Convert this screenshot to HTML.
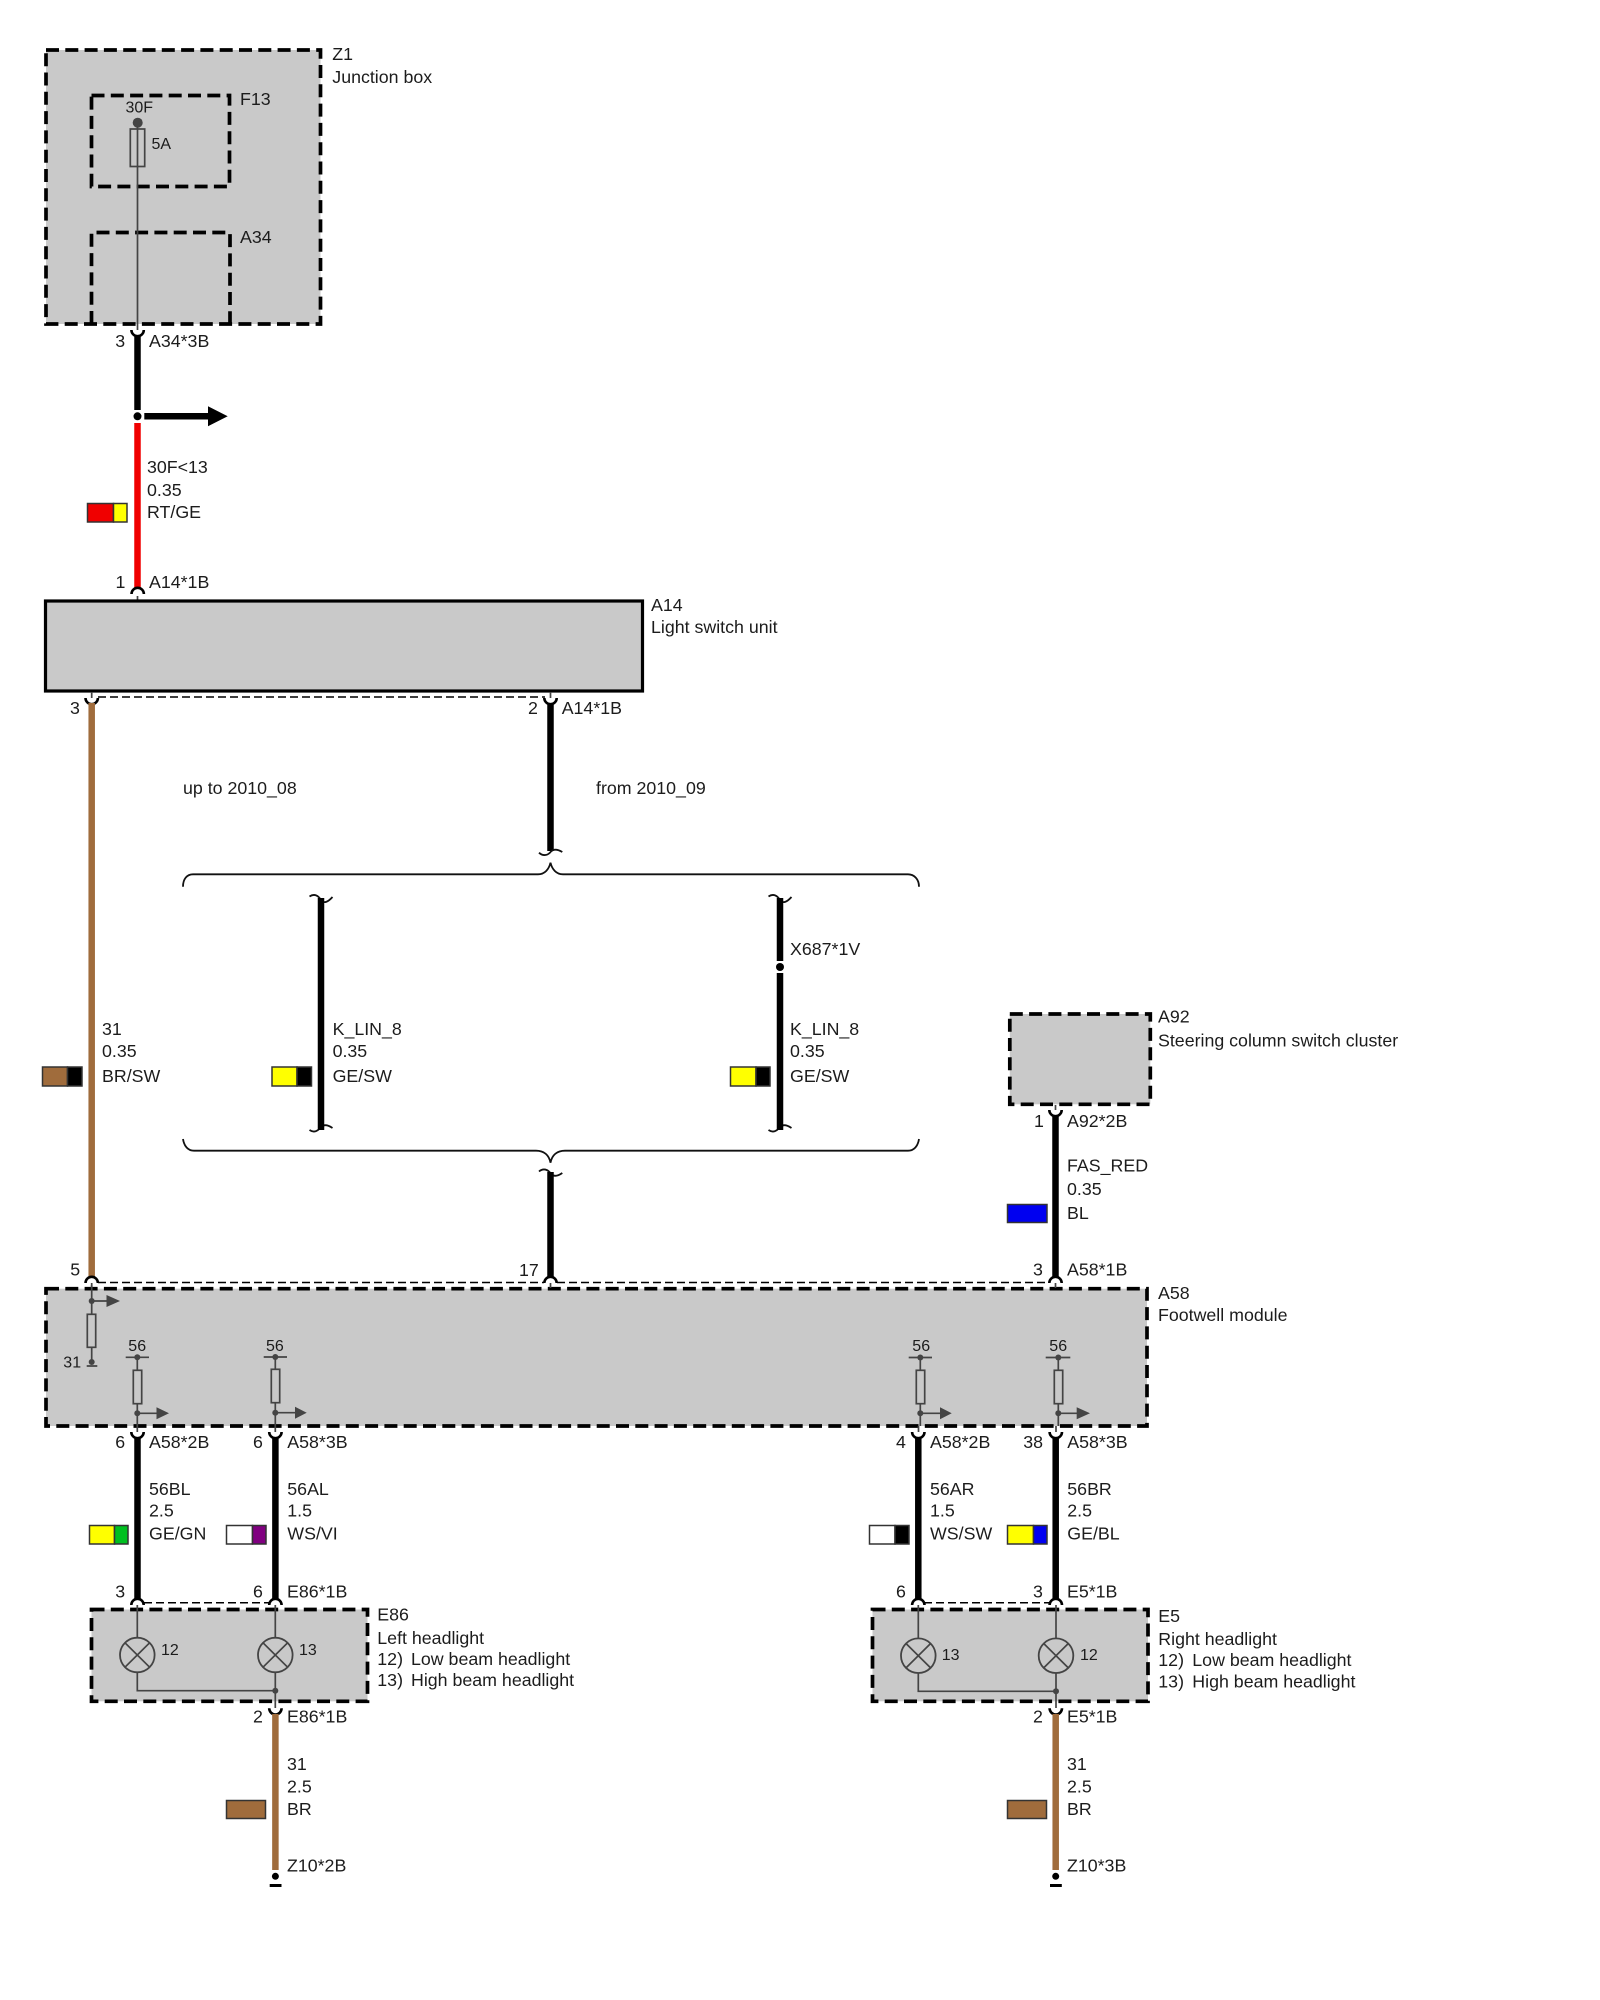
<!DOCTYPE html>
<html><head><meta charset="utf-8"><style>
html,body{margin:0;padding:0;background:#fff;width:1600px;height:2000px;overflow:hidden}
svg{display:block}
text{font-family:"Liberation Sans",Arial,sans-serif;font-size:17.8px;fill:#1c1c1c}
.s{font-size:16px}
.box{fill:#c9c9c9;stroke:#000;stroke-width:3.7;stroke-dasharray:13 6.3}
.ibox{fill:none;stroke:#000;stroke-width:3.7;stroke-dasharray:13 6.3}
.thin{fill:none;stroke:#444;stroke-width:1.7}
.fuse{fill:#c9c9c9;stroke:#444;stroke-width:1.7}
.dash{fill:none;stroke:#000;stroke-width:1.5;stroke-dasharray:8 4}
.cup{fill:none;stroke:#000;stroke-width:2.6}
.w{stroke:#000;stroke-width:6.5;fill:none}
.br{stroke:#a06c3c;stroke-width:6.5;fill:none}
.brace{fill:none;stroke:#111;stroke-width:1.8}
.d{fill:#444}
.sw{stroke:#333;stroke-width:1.5}
</style></head><body>
<svg xmlns="http://www.w3.org/2000/svg" width="1600" height="2000" viewBox="0 0 1600 2000">
<rect width="1600" height="2000" fill="#fff"/>

<!-- Z1 -->
<rect class="box" x="46" y="50" width="274.5" height="274"/>
<rect class="ibox" x="91.5" y="95.5" width="138" height="91"/>
<path class="ibox" d="M91.5 324V232.5H230V324"/>
<path class="thin" d="M137.5 123V330"/>
<rect x="130.3" y="129" width="14.4" height="37.5" fill="none" stroke="#444" stroke-width="1.7"/>
<circle class="d" cx="137.7" cy="122.7" r="5"/>
<text x="332.3" y="60">Z1</text><text x="332.3" y="83">Junction box</text>
<text x="240" y="105">F13</text><text x="240" y="243">A34</text>
<text class="s" x="125.5" y="112.5">30F</text><text class="s" x="151.5" y="149">5A</text>

<!-- top wire -->
<path class="cup" d="M131.4 330A6.2 6.2 0 0 0 143.8 330"/>
<path class="w" d="M137.5 336V410"/>
<circle cx="137.5" cy="416.3" r="4" fill="#000"/>
<path d="M144.3 416.3H210" stroke="#000" stroke-width="6.5"/>
<path d="M208 406.3L227.7 416.3L208 426.3Z" fill="#000"/>
<path stroke="#f00000" stroke-width="6.5" d="M137.5 423V589" fill="none"/>
<text x="115.3" y="347">3</text><text x="149" y="347">A34*3B</text>
<text x="147" y="473">30F&lt;13</text><text x="147" y="496">0.35</text><text x="147" y="518">RT/GE</text>
<rect class="sw" x="87.5" y="503.5" width="26" height="18.5" fill="#f00000"/><rect class="sw" x="113.5" y="503.5" width="13.5" height="18.5" fill="#ffff00"/>
<text x="115.5" y="588">1</text><text x="149" y="588">A14*1B</text>
<path class="cup" d="M131.5 594A6.2 6.2 0 0 1 143.9 594"/>
<path class="thin" d="M137.5 596V600"/>

<!-- A14 -->
<rect x="45.5" y="601" width="597" height="90" fill="#c9c9c9" stroke="#000" stroke-width="3.2"/>
<text x="651" y="611">A14</text><text x="651" y="633">Light switch unit</text>
<path class="dash" d="M98 697H545"/>
<path class="cup" d="M85.5 698A6.2 6.2 0 0 0 97.9 698"/>
<path class="cup" d="M544.3 698A6.2 6.2 0 0 0 556.7 698"/>
<path class="thin" d="M91.7 692V698M550.5 692V698"/>
<path class="br" d="M91.7 703V1277"/>
<path class="w" d="M550.5 703V851"/>
<text x="70" y="714">3</text><text x="528" y="714">2</text><text x="561.7" y="714">A14*1B</text>
<text x="183" y="794">up to 2010_08</text><text x="596" y="794">from 2010_09</text>

<!-- braces -->
<path class="brace" d="M539 852.7C543 856.5 548 855.5 551 851.5C554 848.5 558 849.5 562.3 852"/>
<path class="brace" d="M183 886.7C183 879 187 874.3 193 874.3H538C545 874.3 549 869 550.5 862.7C552 869 556 874.3 563 874.3H908C914 874.3 919 879 919 886.7"/>
<path class="brace" d="M183 1139C184 1146 188 1150.7 194 1150.7H536C544 1150.7 549 1155 550.5 1162.7C552 1155 557 1150.7 565 1150.7H908C914 1150.7 918 1146 919 1139"/>
<path class="brace" d="M309.5 896.5C314 893.5 318 895 321 900C324 904 328 902 332.5 897"/>
<path class="brace" d="M768.5 896.5C773 893.5 777 895 780 900C783 904 787 902 791.5 897"/>
<path class="brace" d="M309.5 1130C314 1133 318 1131 321 1127C324 1124 328 1125 332.5 1128"/>
<path class="brace" d="M768.5 1130C773 1133 777 1131 780 1127C783 1124 787 1125 791.5 1128"/>
<path class="brace" d="M539 1171.5C543 1168 548 1169 551 1174C554 1177 558 1176 562.3 1173"/>
<path class="w" d="M321 898V1130"/>
<path class="w" d="M780 898V961M780 973V1130"/>
<circle cx="780" cy="967" r="4" fill="#000"/>
<path class="w" d="M550.5 1172V1278"/>
<text x="790" y="955">X687*1V</text>
<text x="332.6" y="1035">K_LIN_8</text><text x="332.6" y="1057">0.35</text><text x="332.6" y="1082">GE/SW</text>
<text x="790" y="1035">K_LIN_8</text><text x="790" y="1057">0.35</text><text x="790" y="1082">GE/SW</text>
<text x="102" y="1035">31</text><text x="102" y="1057">0.35</text><text x="102" y="1082">BR/SW</text>
<rect class="sw" x="42.5" y="1067" width="25" height="19" fill="#a06c3c"/><rect x="67.5" y="1067" width="14.5" height="19" fill="#000" stroke="#333" stroke-width="1.5"/>
<rect class="sw" x="272" y="1067" width="25" height="19" fill="#ffff00"/><rect x="297" y="1067" width="14.5" height="19" fill="#000" stroke="#333" stroke-width="1.5"/>
<rect class="sw" x="730.5" y="1067" width="25.5" height="19" fill="#ffff00"/><rect x="756" y="1067" width="14" height="19" fill="#000" stroke="#333" stroke-width="1.5"/>

<!-- A92 -->
<rect class="box" x="1009.8" y="1014" width="140.5" height="90.3"/>
<text x="1158" y="1022.7">A92</text><text x="1158" y="1046.5">Steering column switch cluster</text>
<path class="thin" d="M1055.5 1105V1110"/>
<path class="cup" d="M1049.3 1110A6.2 6.2 0 0 0 1061.7 1110"/>
<path class="w" d="M1055.5 1116V1277"/>
<text x="1034" y="1127">1</text><text x="1067" y="1127">A92*2B</text>
<text x="1067" y="1171.7">FAS_RED</text><text x="1067" y="1195">0.35</text><text x="1067" y="1219">BL</text>
<rect class="sw" x="1007.5" y="1204.5" width="39.5" height="18" fill="#0000f0"/>

<!-- A58 -->
<path class="dash" d="M98 1282.5H544M557 1282.5H1049"/>
<rect class="box" x="46" y="1288.7" width="1101" height="137.3"/>
<path class="cup" d="M85.5 1283A6.2 6.2 0 0 1 97.9 1283"/>
<path class="cup" d="M544.3 1283A6.2 6.2 0 0 1 556.7 1283"/>
<path class="cup" d="M1049.3 1283A6.2 6.2 0 0 1 1061.7 1283"/>
<path class="thin" d="M91.7 1283V1288M550.5 1283V1288M1055.5 1283V1288"/>
<text x="70.3" y="1275.7">5</text><text x="519" y="1276">17</text><text x="1033" y="1275.7">3</text><text x="1067" y="1275.7">A58*1B</text>
<text x="1158" y="1299">A58</text><text x="1158" y="1321">Footwell module</text>

<!-- internals left 31 -->
<path class="thin" d="M91.7 1285V1362M86.7 1366H97.3M91.7 1301H107"/>
<rect class="fuse" x="87.3" y="1314.3" width="8.4" height="33"/>
<circle class="d" cx="91.7" cy="1301" r="3"/><circle class="d" cx="91.7" cy="1362" r="3"/>
<path class="d" d="M106.5 1295L120 1301L106.5 1307Z"/>
<text class="s" x="63.3" y="1367.7">31</text>

<!-- 56 units -->
<path class="thin" d="M125.7 1357.3H149M137.3 1357.3V1432M137.3 1413.3H157"/>
<rect class="fuse" x="133.3" y="1370.3" width="8.4" height="33.4"/>
<circle class="d" cx="137.3" cy="1357.3" r="3"/><circle class="d" cx="137.3" cy="1413.3" r="3"/>
<path class="d" d="M156.5 1407.3L169 1413.3L156.5 1419.3Z"/>
<text class="s" x="128.3" y="1351">56</text>
<path class="thin" d="M263.7 1357H287M275.3 1357V1432M275.3 1412.7H295"/>
<rect class="fuse" x="271.3" y="1369.3" width="8.4" height="33.4"/>
<circle class="d" cx="275.3" cy="1357" r="3"/><circle class="d" cx="275.3" cy="1412.7" r="3"/>
<path class="d" d="M295 1406.7L306.7 1412.7L295 1418.7Z"/>
<text class="s" x="266" y="1351">56</text>
<path class="thin" d="M908.7 1357.5H932M920.3 1357.5V1426M920.3 1413.3H940M918.5 1426V1432"/>
<rect class="fuse" x="916.3" y="1370.3" width="8.4" height="33.4"/>
<circle class="d" cx="920.3" cy="1357.5" r="3"/><circle class="d" cx="920.3" cy="1413.3" r="3"/>
<path class="d" d="M940 1407.3L951.7 1413.3L940 1419.3Z"/>
<text class="s" x="912.3" y="1351">56</text>
<path class="thin" d="M1045.7 1357.5H1070.3M1058.3 1357.5V1426M1058.3 1413.3H1077M1056 1426V1432"/>
<rect class="fuse" x="1054.3" y="1370.3" width="8.4" height="33.4"/>
<circle class="d" cx="1058.3" cy="1357.5" r="3"/><circle class="d" cx="1058.3" cy="1413.3" r="3"/>
<path class="d" d="M1076.7 1407.3L1090 1413.3L1076.7 1419.3Z"/>
<text class="s" x="1049.3" y="1351">56</text>

<!-- lower wires -->
<path class="cup" d="M131.3 1432A6.2 6.2 0 0 0 143.7 1432"/>
<path class="cup" d="M269.2 1432A6.2 6.2 0 0 0 281.6 1432"/>
<path class="cup" d="M912.1 1432A6.2 6.2 0 0 0 924.5 1432"/>
<path class="cup" d="M1049.6 1432A6.2 6.2 0 0 0 1062 1432"/>
<path class="w" d="M137.5 1438V1599M275.4 1438V1599M918.3 1438V1599M1055.7 1438V1599"/>
<text x="115.3" y="1448">6</text><text x="149" y="1448">A58*2B</text>
<text x="253" y="1448">6</text><text x="287.3" y="1448">A58*3B</text>
<text x="896" y="1448">4</text><text x="930" y="1448">A58*2B</text>
<text x="1023.3" y="1448">38</text><text x="1067.3" y="1448">A58*3B</text>
<text x="149" y="1495">56BL</text><text x="149" y="1516.7">2.5</text><text x="149" y="1539.3">GE/GN</text>
<text x="287.3" y="1495">56AL</text><text x="287.3" y="1516.7">1.5</text><text x="287.3" y="1539.3">WS/VI</text>
<text x="930" y="1495">56AR</text><text x="930" y="1516.7">1.5</text><text x="930" y="1539.3">WS/SW</text>
<text x="1067.3" y="1495">56BR</text><text x="1067.3" y="1516.7">2.5</text><text x="1067.3" y="1539.3">GE/BL</text>
<rect class="sw" x="89.5" y="1525.5" width="25" height="18.5" fill="#ffff00"/><rect class="sw" x="114.5" y="1525.5" width="13.5" height="18.5" fill="#00c020"/>
<rect class="sw" x="226.5" y="1525.5" width="26" height="18.5" fill="#fff"/><rect class="sw" x="252.5" y="1525.5" width="13.5" height="18.5" fill="#800080"/>
<rect class="sw" x="869.5" y="1525.5" width="25.5" height="18.5" fill="#fff"/><rect x="895" y="1525.5" width="14" height="18.5" fill="#000" stroke="#333" stroke-width="1.5"/>
<rect class="sw" x="1007.5" y="1525.5" width="26" height="18.5" fill="#ffff00"/><rect class="sw" x="1033.5" y="1525.5" width="13.5" height="18.5" fill="#0000f0"/>

<text x="115.3" y="1597.7">3</text><text x="253" y="1597.7">6</text><text x="287" y="1597.7">E86*1B</text>
<text x="896" y="1597.7">6</text><text x="1033" y="1597.7">3</text><text x="1067" y="1597.7">E5*1B</text>

<!-- E86 -->
<path class="dash" d="M144 1602.7H269"/>
<rect class="box" x="91.5" y="1609.5" width="276" height="91.8"/>
<path class="cup" d="M131.3 1605A6.2 6.2 0 0 1 143.7 1605"/>
<path class="cup" d="M269.2 1605A6.2 6.2 0 0 1 281.6 1605"/>
<path class="thin" d="M137.3 1605V1638M275.3 1605V1638M137.3 1672V1690.7H275.3M275.3 1672V1708"/>
<circle cx="137.3" cy="1655" r="17.3" fill="none" stroke="#444" stroke-width="1.8"/><path class="thin" d="M125 1642.8L149.6 1667.2M149.6 1642.8L125 1667.2"/>
<circle cx="275.3" cy="1655" r="17.3" fill="none" stroke="#444" stroke-width="1.8"/><path class="thin" d="M263 1642.8L287.6 1667.2M287.6 1642.8L263 1667.2"/>
<circle class="d" cx="275.3" cy="1690.7" r="3"/>
<text class="s" x="161" y="1655">12</text><text class="s" x="299" y="1655">13</text>
<text x="377.3" y="1620.7">E86</text><text x="377.3" y="1644">Left headlight</text>
<text x="377.3" y="1665">12)</text><text x="411" y="1665">Low beam headlight</text>
<text x="377.3" y="1686">13)</text><text x="411" y="1686">High beam headlight</text>
<path class="cup" d="M269.2 1708.3A6.2 6.2 0 0 0 281.6 1708.3"/>
<path class="br" d="M275.4 1714V1870"/>
<text x="253" y="1722.7">2</text><text x="287" y="1722.7">E86*1B</text>
<text x="287" y="1770">31</text><text x="287" y="1792.7">2.5</text><text x="287" y="1815">BR</text>
<rect class="sw" x="226.5" y="1800.5" width="39" height="18" fill="#a06c3c"/>
<text x="287" y="1871.7">Z10*2B</text>
<circle cx="275.4" cy="1876.3" r="3.5" fill="#000"/><rect x="269.7" y="1884" width="11.8" height="3" fill="#000"/>

<!-- E5 -->
<path class="dash" d="M924 1602.7H1050"/>
<rect class="box" x="872.5" y="1609.5" width="275.5" height="91.8"/>
<path class="cup" d="M912.1 1605A6.2 6.2 0 0 1 924.5 1605"/>
<path class="cup" d="M1049.6 1605A6.2 6.2 0 0 1 1062 1605"/>
<path class="thin" d="M918.3 1605V1638M1056 1605V1638M918.3 1673V1691.3H1056M1056 1673V1708"/>
<circle cx="918.3" cy="1655.7" r="17.3" fill="none" stroke="#444" stroke-width="1.8"/><path class="thin" d="M906 1643.5L930.6 1667.9M930.6 1643.5L906 1667.9"/>
<circle cx="1056" cy="1655.7" r="17.3" fill="none" stroke="#444" stroke-width="1.8"/><path class="thin" d="M1043.7 1643.5L1068.3 1667.9M1068.3 1643.5L1043.7 1667.9"/>
<circle class="d" cx="1056" cy="1691.3" r="3"/>
<text class="s" x="941.7" y="1660">13</text><text class="s" x="1080" y="1660">12</text>
<text x="1158.3" y="1622">E5</text><text x="1158.3" y="1645">Right headlight</text>
<text x="1158.3" y="1666">12)</text><text x="1192.3" y="1666">Low beam headlight</text>
<text x="1158.3" y="1687.3">13)</text><text x="1192.3" y="1687.3">High beam headlight</text>
<path class="cup" d="M1049.6 1708.3A6.2 6.2 0 0 0 1062 1708.3"/>
<path class="br" d="M1055.7 1714V1870"/>
<text x="1033" y="1722.7">2</text><text x="1067" y="1722.7">E5*1B</text>
<text x="1067" y="1770">31</text><text x="1067" y="1792.7">2.5</text><text x="1067" y="1815">BR</text>
<rect class="sw" x="1007.5" y="1800.5" width="39" height="18" fill="#a06c3c"/>
<text x="1067" y="1871.7">Z10*3B</text>
<circle cx="1055.7" cy="1876.3" r="3.5" fill="#000"/><rect x="1050" y="1884" width="11.8" height="3" fill="#000"/>
</svg>
</body></html>
